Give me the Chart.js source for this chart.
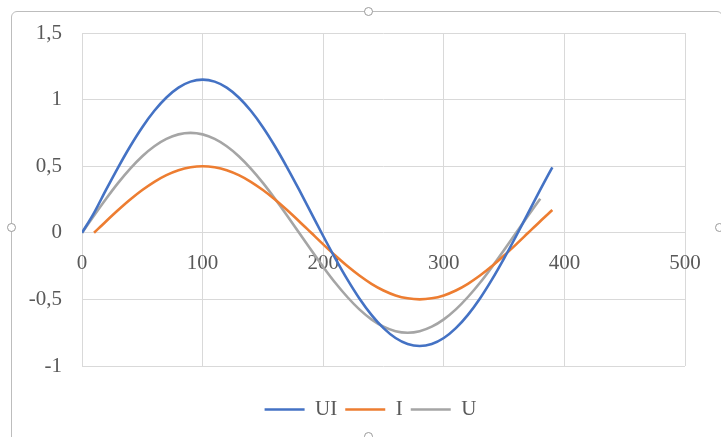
<!DOCTYPE html>
<html>
<head>
<meta charset="utf-8">
<script src="https://cdn.jsdelivr.net/npm/chart.js@4/dist/chart.umd.min.js"></script>
<style>
    html, body { margin: 0; padding: 0; background: #fff; }
    #wrap { position: relative; width: 721px; height: 437px; overflow: hidden; }
    #frame {
        position: absolute; left: 11px; top: 11px; width: 712px; height: 440px;
        border: 1.5px solid #bdbdbd; border-radius: 6px; box-sizing: border-box;
    }
    .handle {
        position: absolute; width: 9px; height: 9px; border-radius: 50%;
        border: 1.5px solid #9a9a9a; background: #fff; box-sizing: border-box;
    }
    canvas { position: absolute; left: 0; top: 0; }
</style>
</head>
<body>
<div id="wrap">
    <div id="frame"></div>
    <div class="handle" style="left: 364px; top: 7px;"></div>
    <div class="handle" style="left: 7px; top: 223px;"></div>
    <div class="handle" style="left: 715px; top: 223px;"></div>
    <div class="handle" style="left: 364px; top: 432px;"></div>
    <canvas id="chart" width="721" height="437"></canvas>
</div>
<script>
// Data
const xUI = [0, 10, 20, 30, 40, 50, 60, 70, 80, 90, 100, 110, 120, 130, 140, 150, 160, 170, 180, 190,
             200, 210, 220, 230, 240, 250, 260, 270, 280, 290, 300, 310, 320, 330, 340, 350, 360, 370, 380, 390];
const uiValues = [0, 0.15, 0.324, 0.492, 0.65, 0.793, 0.916, 1.016, 1.09, 1.135, 1.15, 1.135, 1.09, 1.016, 0.916, 0.793, 0.65, 0.492, 0.324, 0.15,
                  -0.024, -0.192, -0.35, -0.493, -0.616, -0.716, -0.79, -0.835, -0.85, -0.835, -0.79, -0.716, -0.616, -0.493, -0.35, -0.192, -0.024, 0.15, 0.324, 0.492];

const xI = [10, 20, 30, 40, 50, 60, 70, 80, 90, 100, 110, 120, 130, 140, 150, 160, 170, 180, 190,
            200, 210, 220, 230, 240, 250, 260, 270, 280, 290, 300, 310, 320, 330, 340, 350, 360, 370, 380, 390];
const iValues = [0, 0.087, 0.171, 0.25, 0.321, 0.383, 0.433, 0.47, 0.492, 0.5, 0.492, 0.47, 0.433, 0.383, 0.321, 0.25, 0.171, 0.087, 0,
                 -0.087, -0.171, -0.25, -0.321, -0.383, -0.433, -0.47, -0.492, -0.5, -0.492, -0.47, -0.433, -0.383, -0.321, -0.25, -0.171, -0.087, 0, 0.087, 0.171];

const xU = [0, 10, 20, 30, 40, 50, 60, 70, 80, 90, 100, 110, 120, 130, 140, 150, 160, 170, 180, 190,
            200, 210, 220, 230, 240, 250, 260, 270, 280, 290, 300, 310, 320, 330, 340, 350, 360, 370, 380];
const uValues = [0, 0.13, 0.256, 0.375, 0.482, 0.575, 0.65, 0.705, 0.739, 0.75, 0.739, 0.705, 0.65, 0.575, 0.482, 0.375, 0.256, 0.13, 0, -0.13,
                 -0.256, -0.375, -0.482, -0.575, -0.65, -0.705, -0.739, -0.75, -0.739, -0.705, -0.65, -0.575, -0.482, -0.375, -0.256, -0.13, 0, 0.13, 0.256];

const xTicks = [0, 100, 200, 300, 400, 500];
const yTicks = [-1, -0.5, 0, 0.5, 1, 1.5];

const seriesNames = ['UI', 'I', 'U'];
const seriesColors = ['#4472C4', '#ED7D31', '#A5A5A5'];

const FONT = { family: "'Liberation Serif', 'Times New Roman', serif", size: 21 };
const TEXT_COLOR = '#595959';
const GRID_COLOR = '#d9d9d9';

function toPoints(xs, ys) {
    return xs.map((x, i) => ({ x: x, y: ys[i] }));
}

function makeDataset(name, color, points) {
    return {
        label: name,
        data: points,
        borderColor: color,
        backgroundColor: color,
        borderWidth: 2.6,
        pointRadius: 0,
        showLine: true,
        cubicInterpolationMode: 'monotone',
        fill: false
    };
}

// invisible axis used only to reserve space
function spacerAxis(position, size) {
    return {
        type: 'linear',
        position: position,
        display: true,
        grid: { display: false, drawTicks: false },
        border: { display: false },
        ticks: { display: false },
        afterFit: (scale) => {
            if (scale.isHorizontal()) scale.height = size;
            else scale.width = size;
        }
    };
}

const ctx = document.getElementById('chart');

new Chart(ctx, {
    type: 'scatter',
    data: {
        datasets: [
            makeDataset(seriesNames[0], seriesColors[0], toPoints(xUI, uiValues)),
            makeDataset(seriesNames[1], seriesColors[1], toPoints(xI, iValues)),
            makeDataset(seriesNames[2], seriesColors[2], toPoints(xU, uValues))
        ]
    },
    options: {
        responsive: false,
        animation: false,
        layout: {
            padding: { left: 20, right: 0, top: 33, bottom: 7 }
        },
        plugins: {
            tooltip: { enabled: false },
            legend: {
                display: true,
                position: 'bottom',
                labels: {
                    font: FONT,
                    color: TEXT_COLOR,
                    usePointStyle: true,
                    pointStyle: 'line',
                    pointStyleWidth: 40,
                    padding: 8
                }
            }
        },
        scales: {
            x: {
                type: 'linear',
                position: { y: 0 },
                min: xTicks[0],
                max: xTicks[xTicks.length - 1],
                afterBuildTicks: (scale) => {
                    scale.ticks = xTicks.map(v => ({ value: v }));
                },
                grid: { color: GRID_COLOR, drawTicks: false },
                border: { display: false },
                ticks: {
                    font: FONT,
                    color: TEXT_COLOR,
                    padding: 18,
                    maxRotation: 0,
                    callback: (value) => String(value)
                }
            },
            y: {
                type: 'linear',
                position: 'left',
                min: yTicks[0],
                max: yTicks[yTicks.length - 1],
                afterBuildTicks: (scale) => {
                    scale.ticks = yTicks.map(v => ({ value: v }));
                },
                afterFit: (scale) => {
                    scale.width = 62;
                },
                grid: { color: GRID_COLOR, drawTicks: false },
                border: { display: false },
                ticks: {
                    font: FONT,
                    color: TEXT_COLOR,
                    padding: 20,
                    callback: (value) => String(value).replace('.', ',')
                }
            },
            spaceRight: spacerAxis('right', 36),
            spaceBottom: spacerAxis('bottom', 25)
        }
    }
});
</script>
</body>
</html>
